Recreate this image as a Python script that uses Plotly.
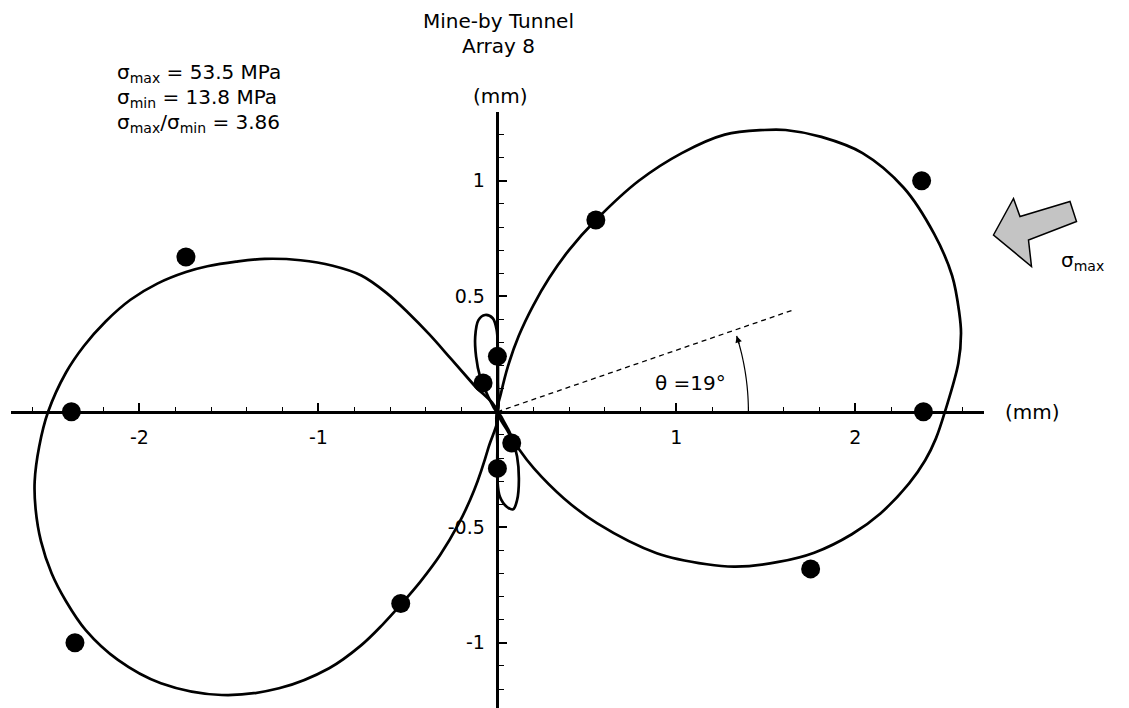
import math
import plotly.graph_objects as go

# ---------------- data (mm) ----------------
right_lobe_x = [0, 0.02, 0.06, 0.12, 0.20, 0.29, 0.40, 0.55, 0.79, 1.03, 1.27, 1.49, 1.61, 1.81,
                2.04, 2.27, 2.44, 2.54, 2.58, 2.59, 2.575, 2.50, 2.45, 2.39, 2.30, 2.14, 1.98, 1.77,
                1.57, 1.33, 1.17, 0.89, 0.556, 0.372, 0.204, 0.12, 0.05, 0]
right_lobe_y = [0, 0.08, 0.20, 0.33, 0.46, 0.58, 0.70, 0.83, 1.00, 1.12, 1.20, 1.22, 1.22, 1.19,
                1.12, 0.97, 0.77, 0.59, 0.43, 0.34, 0.21, 0.0, -0.115, -0.21, -0.31, -0.44, -0.53, -0.61,
                -0.65, -0.67, -0.66, -0.612, -0.482, -0.375, -0.245, -0.161, -0.074, 0]

left_lobe_x = [0, -0.13, -0.26, -0.38, -0.50, -0.62, -0.76, -0.92, -1.10, -1.30, -1.46, -1.62, -1.74,
               -1.90, -2.05, -2.19, -2.31, -2.41, -2.51, -2.56, -2.585, -2.58, -2.55, -2.49, -2.41,
               -2.30, -2.12, -1.88, -1.54, -1.22, -0.94, -0.76, -0.64, -0.54, -0.43, -0.32, -0.22,
               -0.13, -0.05, 0]
left_lobe_y = [0, 0.115, 0.23, 0.335, 0.43, 0.515, 0.59, 0.632, 0.656, 0.662, 0.65, 0.63, 0.605,
               0.555, 0.485, 0.39, 0.285, 0.17, 0.0, -0.151, -0.30, -0.42, -0.56, -0.70, -0.82,
               -0.945, -1.074, -1.175, -1.226, -1.197, -1.110, -1.01, -0.92, -0.835, -0.735, -0.62, -0.49,
               -0.34, -0.155, 0]

upper_loop_x = [0, 0.003, 0.002, -0.004, -0.026, -0.069, -0.106, -0.124, -0.119, -0.097, -0.056, 0]
upper_loop_y = [0, 0.138, 0.282, 0.354, 0.405, 0.419, 0.397, 0.325, 0.239, 0.152, 0.073, 0]

lower_loop_x = [0, 0.0, 0.0, 0.014, 0.052, 0.088, 0.11, 0.12, 0.11, 0.079, 0.042, 0]
lower_loop_y = [0, -0.151, -0.295, -0.368, -0.411, -0.422, -0.382, -0.295, -0.194, -0.108, -0.05, 0]

dots_x = [0.55, 2.37, 2.38, 1.75, -1.74, -2.38, -2.36, -0.54, 0.0, -0.08, 0.08, 0.0]
dots_y = [0.83, 1.00, 0.0, -0.68, 0.67, 0.0, -1.00, -0.83, 0.24, 0.125, -0.135, -0.245]

x_tick_vals = [-2, -1, 1, 2]
x_tick_text = ["-2", "-1", "1", "2"]
y_tick_vals = [-1, -0.5, 0.5, 1]
y_tick_text = ["-1", "-0.5", "0.5", "1"]

theta_deg = 19
sigma_max = 53.5
sigma_min = 13.8
ratio = 3.86

# ---------------- layout geometry (pixels) ----------------
W, H = 1129, 708
X0, Y0 = 497.4, 411.8      # origin in pixels
SX, SY = 179.0, 231.0      # pixels per mm
XR = 2.72                  # x axis half-length (mm)
YTOP = 1.3                 # top of y axis (mm)
FONT = "DejaVu Sans"


def pxx(x):
    return x / W


def pyy(y):
    return 1 - y / H


fig = go.Figure()
for xs, ys in [(right_lobe_x, right_lobe_y), (left_lobe_x, left_lobe_y),
               (upper_loop_x, upper_loop_y), (lower_loop_x, lower_loop_y)]:
    fig.add_trace(go.Scatter(x=xs, y=ys, mode="lines",
                             line=dict(color="black", width=2.7, shape="spline", smoothing=1.0),
                             hoverinfo="skip", showlegend=False))
fig.add_trace(go.Scatter(x=dots_x, y=dots_y, mode="markers",
                         marker=dict(size=19, color="black"), showlegend=False))

x_dom = [(X0 - XR * SX) / W, (X0 + XR * SX) / W]
y_top_px = Y0 - YTOP * SY
y_bottom = -(H - Y0) / SY
y_dom = [0, 1 - y_top_px / H]

axis_common = dict(showgrid=False, zeroline=False, showline=True, linecolor="black", linewidth=2.5,
                   ticks="inside", tickcolor="black", tickwidth=1.5, ticklen=8,
                   tickfont=dict(family=FONT, size=19, color="black"), tickmode="array")

fig.update_layout(
    width=W, height=H, margin=dict(l=0, r=0, t=0, b=0),
    font=dict(family=FONT, size=19, color="black"),
    paper_bgcolor="white", plot_bgcolor="white", showlegend=False,
    xaxis=dict(axis_common, range=[-XR, XR], domain=x_dom, anchor="free", position=1 - Y0 / H,
               tickvals=x_tick_vals, ticktext=x_tick_text, side="bottom", ticklabelstandoff=8,
               minor=dict(ticks="inside", dtick=0.2, tick0=0, ticklen=4, tickwidth=1.3, tickcolor="black")),
    yaxis=dict(axis_common, range=[y_bottom, YTOP], domain=y_dom, anchor="free", position=X0 / W,
               tickvals=y_tick_vals, ticktext=y_tick_text, side="left", ticklabelstandoff=8,
               minor=dict(ticks="inside", dtick=0.1, tick0=0, ticklen=5, tickwidth=1.3, tickcolor="black")),
)

# dashed sigma_max direction line
dash_len_px = 315
th = math.radians(theta_deg)
fig.add_shape(type="line", xref="x", yref="y", x0=0, y0=0,
              x1=dash_len_px * math.cos(th) / SX, y1=dash_len_px * math.sin(th) / SY,
              line=dict(color="black", width=1.3, dash="5px,4px"))

# angle arc (circle in pixel space)
R = 251.0
end_deg = 17.6
pts = []
n = 24
for i in range(n + 1):
    a = math.radians(end_deg * i / n)
    pts.append((R * math.cos(a) / SX, R * math.sin(a) / SY))
path = "M " + " L ".join(f"{x:.4f},{y:.4f}" for x, y in pts)
fig.add_shape(type="path", xref="x", yref="y", path=path, line=dict(color="black", width=1.2))
ea = math.radians(end_deg)
fig.add_annotation(x=pts[-1][0], y=pts[-1][1], xref="x", yref="y", text="", showarrow=True,
                   arrowhead=2, arrowsize=1.1, arrowwidth=1.2, arrowcolor="black",
                   ax=10 * math.sin(ea), ay=10 * math.cos(ea), font=dict(size=10))

# block arrow for sigma_max
arrow_px = [(993.5, 235), (1013.5, 198.5), (1020, 216.5), (1070, 201.5), (1076.5, 221.5),
            (1028.5, 240), (1031.5, 266.5)]
apath = "M " + " L ".join(f"{pxx(x):.5f},{pyy(y):.5f}" for x, y in arrow_px) + " Z"
fig.add_shape(type="path", xref="paper", yref="paper", path=apath,
              fillcolor="#c4c4c4", line=dict(color="black", width=1.5))


def text(s, x, y, xanchor="center", size=20):
    fig.add_annotation(x=pxx(x), y=pyy(y), xref="paper", yref="paper", text=s, showarrow=False,
                       xanchor=xanchor, yanchor="middle",
                       font=dict(family=FONT, size=size, color="black"))


text("Mine-by Tunnel", 498, 21)
text("Array 8", 498, 46)
text("(mm)", 500, 96)
text("(mm)", 1003, 412, xanchor="left")
text(f"σ<sub>max</sub> = {sigma_max} MPa", 115, 73, xanchor="left")
text(f"σ<sub>min</sub> = {sigma_min} MPa", 115, 98, xanchor="left")
text(f"σ<sub>max</sub>/σ<sub>min</sub> = {ratio}", 115, 123, xanchor="left")
text(f"θ ={theta_deg}°", 690, 383)
text("σ<sub>max</sub>", 1059, 261, xanchor="left")

fig.write_html("out.html", config={"displayModeBar": False},
               post_script="document.body.style.margin='0';document.body.style.overflow='hidden';")
